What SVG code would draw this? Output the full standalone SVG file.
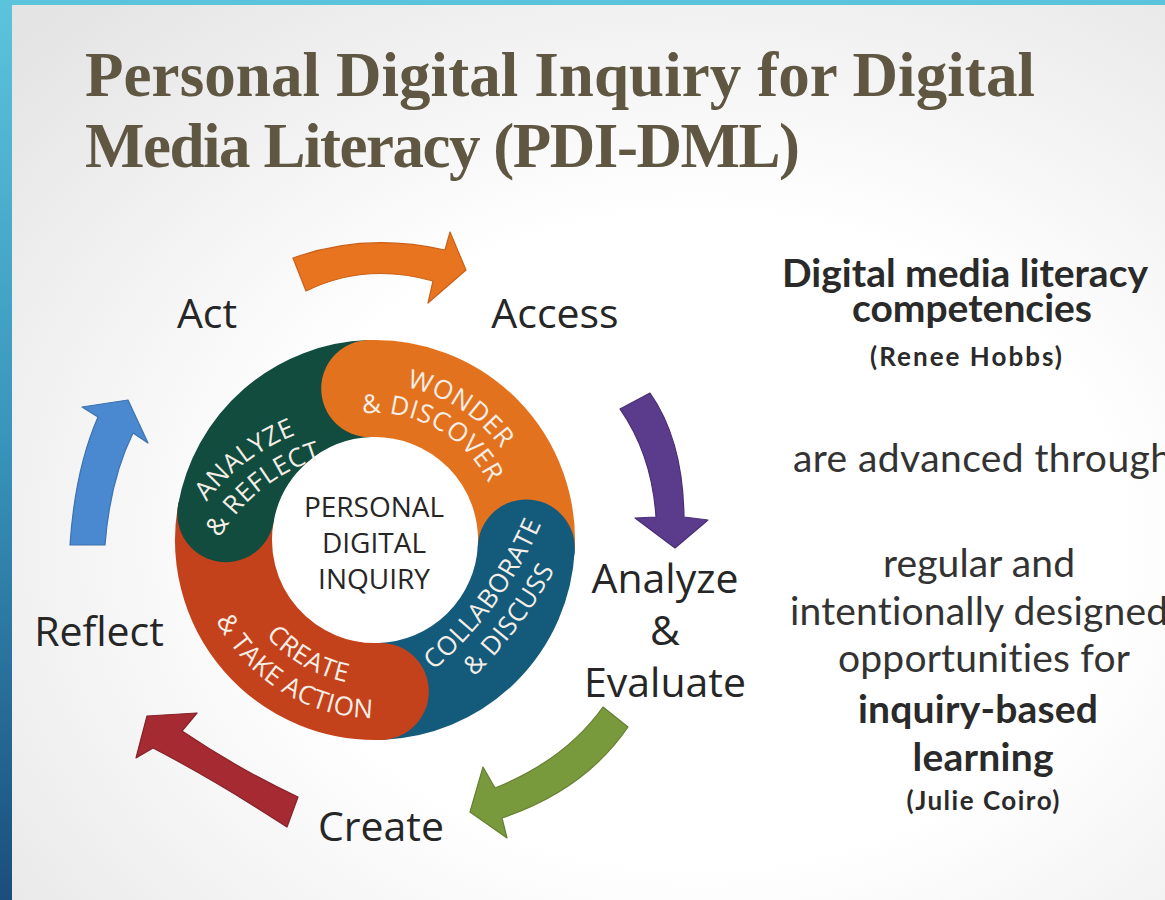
<svg xmlns="http://www.w3.org/2000/svg" width="1165" height="900" viewBox="0 0 1165 900">
<defs>
  <radialGradient id="bg" cx="0.6" cy="0.6" r="0.8">
    <stop offset="0.45" stop-color="#ffffff"/>
    <stop offset="1" stop-color="#e4e4e4"/>
  </radialGradient>
  <linearGradient id="strip" x1="0" y1="0" x2="0" y2="1">
    <stop offset="0" stop-color="#5BC4DC"/>
    <stop offset="0.5" stop-color="#3793BB"/>
    <stop offset="1" stop-color="#1A4E7C"/>
  </linearGradient>
  <path id="p-wonder" d="M 356.0 385.2 A 156 156 0 0 1 524.2 494.4"/>
  <path id="p-discover" d="M 329.5 421.4 A 127 127 0 0 1 499.7 515.7"/>
  <path id="p-analyze" d="M 180.5 546.7 A 208 208 0 0 1 346.6 421.6"/>
  <path id="p-reflect" d="M 207.9 561.7 A 177 177 0 0 1 347.4 452.7"/>
  <path id="p-collab" d="M 382.4 707.8 A 405 405 0 0 0 562.0 463.2"/>
  <path id="p-discuss" d="M 394.7 737.7 A 437 437 0 0 0 591.7 476.3"/>
  <path id="p-create" d="M 234.9 577.5 A 145 145 0 0 0 412.5 680.1"/>
  <path id="p-action" d="M 197.1 533.8 A 178 178 0 0 0 458.6 697.2"/>
</defs>
<style>
  .title{font-family:"Liberation Serif","Times New Roman",serif;font-weight:bold;font-size:63px;fill:#5F5742}
  .cyc{font-family:"Open Sans","Liberation Sans",sans-serif;font-size:41px;fill:#262626;text-anchor:middle}
  .core{font-family:"Open Sans","Liberation Sans",sans-serif;font-size:28px;fill:#262626;text-anchor:middle}
  .seg{fill:none;stroke-width:97}
  .lbl{font-family:"Open Sans","Liberation Sans",sans-serif;font-size:26px;fill:#F4EEE6;letter-spacing:0.5px;text-anchor:middle}
  .side{font-family:Lato,"Open Sans",sans-serif;font-size:39px;fill:#333333;text-anchor:middle;font-variant-ligatures:none}
  .b{font-weight:bold;fill:#2A2A2A}
  .sm{font-size:26px}
  .arrow{stroke-width:1.2;stroke-linejoin:round}
</style>

<rect x="0" y="0" width="1165" height="900" fill="url(#bg)"/>
<rect x="0" y="0" width="1165" height="5" fill="#5BC3DB"/>
<rect x="0" y="0" width="12" height="900" fill="url(#strip)"/>

<g id="title">
  <text class="title" x="85" y="96" textLength="950" lengthAdjust="spacing">Personal Digital Inquiry for Digital</text>
  <text class="title" x="85" y="167" textLength="715" lengthAdjust="spacing">Media Literacy (PDI-DML)</text>
</g>

<g id="node-ring">
  <circle cx="375" cy="540" r="104" fill="#ffffff"/>
  <path class="seg" stroke="#E3721F" d="M 369.71 388.59 A 151.5 151.5 0 0 1 526.29 547.93"/>
  <path class="seg" stroke="#145A7B" d="M 526.29 547.93 A 151.5 151.5 0 0 1 380.29 691.41"/>
  <path class="seg" stroke="#C4421B" d="M 380.29 691.41 A 151.5 151.5 0 0 1 225.80 513.69"/>
  <path class="seg" stroke="#124C3F" d="M 225.80 513.69 A 151.5 151.5 0 0 1 369.71 388.59"/>
  <circle cx="369.71" cy="388.59" r="48.5" fill="#E3721F"/>
  <circle cx="526.29" cy="547.93" r="48.5" fill="#145A7B"/>
  <circle cx="380.29" cy="691.41" r="48.5" fill="#C4421B"/>
  <circle cx="225.80" cy="513.69" r="48.5" fill="#124C3F"/>
  <text class="lbl"><textPath href="#p-wonder" startOffset="50%">WONDER</textPath></text>
  <text class="lbl"><textPath href="#p-discover" startOffset="50%">&amp; DISCOVER</textPath></text>
  <text class="lbl"><textPath href="#p-analyze" startOffset="50%">ANALYZE</textPath></text>
  <text class="lbl"><textPath href="#p-reflect" startOffset="50%">&amp; REFLECT</textPath></text>
  <text class="lbl"><textPath href="#p-collab" startOffset="50%">COLLABORATE</textPath></text>
  <text class="lbl"><textPath href="#p-discuss" startOffset="50%">&amp; DISCUSS</textPath></text>
  <text class="lbl"><textPath href="#p-create" startOffset="50%">CREATE</textPath></text>
  <text class="lbl"><textPath href="#p-action" startOffset="50%">&amp; TAKE ACTION</textPath></text>
  <text class="core" x="374" y="517">PERSONAL</text>
  <text class="core" x="374" y="553">DIGITAL</text>
  <text class="core" x="374" y="589">INQUIRY</text>
</g>

<g id="node-act"><text class="cyc" x="207" y="328">Act</text></g>
<g id="node-access"><text class="cyc" x="555" y="328">Access</text></g>
<g id="node-analyze">
  <text class="cyc" x="665" y="593">Analyze</text>
  <text class="cyc" x="665" y="645">&amp;</text>
  <text class="cyc" x="665" y="697">Evaluate</text>
</g>
<g id="node-create"><text class="cyc" x="381" y="841">Create</text></g>
<g id="node-reflect"><text class="cyc" x="99" y="646">Reflect</text></g>

<g id="connectors">
  <path class="arrow" fill="#E8741F" stroke="#C9601A" d="M 293 258 Q 365 232 445 250 L 450 232 L 466 270 L 428 303 L 433 281 Q 365 262 306 291 Z"/>
  <path class="arrow" fill="#5B3B8C" stroke="#4A2E75" d="M 620 409 L 650 393 Q 683 440 684 517 L 708 520 L 675 548 L 635 518 L 656 517 Q 652 455 620 409 Z"/>
  <path class="arrow" fill="#789A3C" stroke="#647F30" d="M 603 707 L 628 727 Q 585 790 502 818 L 507 838 L 470 812 L 483 767 L 495 788 Q 565 760 603 707 Z"/>
  <path class="arrow" fill="#A52A32" stroke="#86222A" d="M 298 797 Q 240 770 182 731 L 197 713 L 147 716 L 136 758 L 153 748 Q 215 780 287 827 Z"/>
  <path class="arrow" fill="#4A88CF" stroke="#3C72AE" d="M 70 545 Q 75 470 98 417 L 82 407 L 128 400 L 148 443 L 133 433 Q 110 480 105 545 Z"/>
</g>

<g id="side-text">
  <text class="side b" x="965" y="287" textLength="366" lengthAdjust="spacing">Digital media literacy</text>
  <text class="side b" x="972" y="322" textLength="240" lengthAdjust="spacing">competencies</text>
  <text class="side b sm" x="966" y="366" textLength="192" lengthAdjust="spacing">(Renee Hobbs)</text>
  <text class="side" x="793" y="472" style="text-anchor:start" textLength="379" lengthAdjust="spacing">are advanced through</text>
  <text class="side" x="979" y="577" textLength="192" lengthAdjust="spacing">regular and</text>
  <text class="side" x="790" y="625" style="text-anchor:start" textLength="378" lengthAdjust="spacing">intentionally designed</text>
  <text class="side" x="984" y="672" textLength="292" lengthAdjust="spacing">opportunities for</text>
  <text class="side b" x="978" y="723" textLength="240" lengthAdjust="spacing">inquiry-based</text>
  <text class="side b" x="983" y="771" textLength="141" lengthAdjust="spacing">learning</text>
  <text class="side b sm" x="983" y="810" textLength="153" lengthAdjust="spacing">(Julie Coiro)</text>
</g>
</svg>
